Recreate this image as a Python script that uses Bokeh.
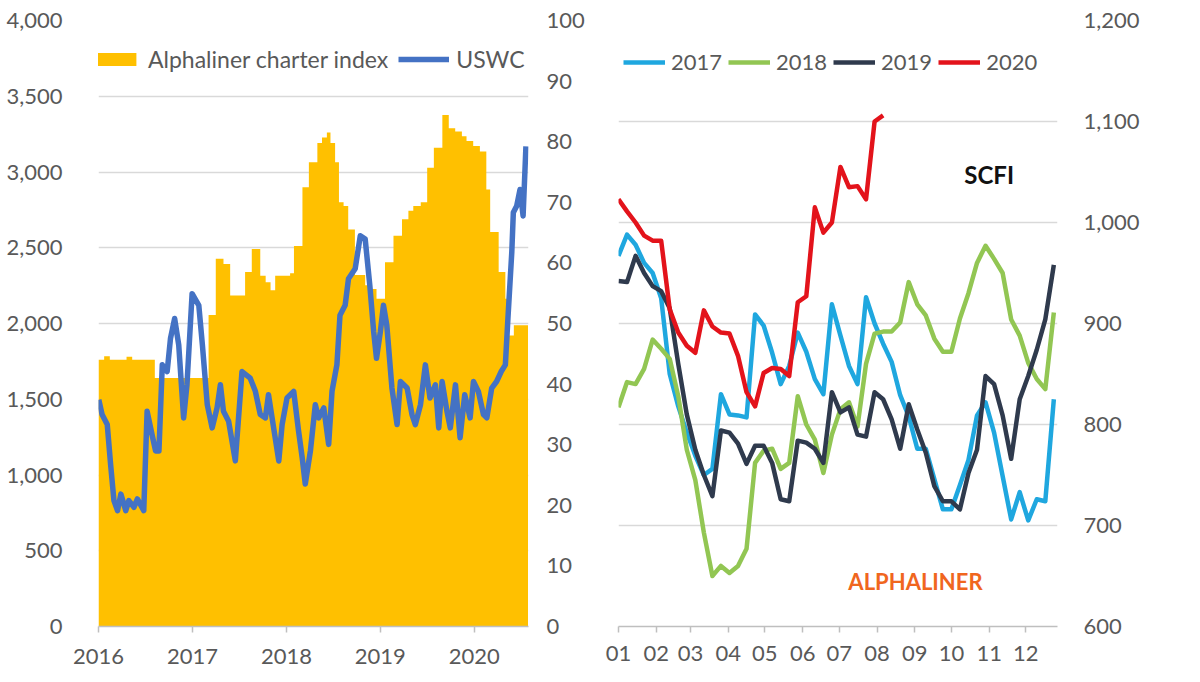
import pandas as pd
from datetime import datetime
from bokeh.plotting import figure
from bokeh.models import (Range1d, LinearAxis, FixedTicker, NumeralTickFormatter,
                          DatetimeTickFormatter, Legend, LegendItem, Label, ColumnDataSource)
from bokeh.layouts import row
from bokeh.embed import file_html
from bokeh.resources import INLINE

# ---------------- data: left panel ----------------
charter_dates = ["2016-01-01", "2016-01-23", "2016-02-14", "2016-04-19", "2016-05-11", "2016-08-07",
                 "2017-03-04", "2017-04-01", "2017-05-01", "2017-05-27", "2017-07-24", "2017-08-19",
                 "2017-09-21", "2017-10-12", "2017-10-31", "2017-11-18", "2018-01-15", "2018-01-30",
                 "2018-03-04", "2018-03-29", "2018-05-01", "2018-05-19", "2018-06-07", "2018-06-21",
                 "2018-07-09", "2018-07-24", "2018-08-11", "2018-08-29", "2018-09-24", "2018-11-03",
                 "2018-11-29", "2018-12-17", "2019-01-19", "2019-02-21", "2019-03-26", "2019-04-20",
                 "2019-05-09", "2019-06-07", "2019-07-02", "2019-07-28", "2019-08-30", "2019-09-24",
                 "2019-10-19", "2019-11-14", "2019-12-02", "2019-12-28", "2020-01-23", "2020-02-17",
                 "2020-03-03", "2020-04-05", "2020-05-01", "2020-05-16", "2020-06-03", "2020-07-28"]
charter_index = [44.0, 44.6, 44.0, 44.5, 44.0, 41.0,
                 51.4, 60.7, 59.8, 54.6, 58.5, 62.3,
                 57.9, 56.8, 55.5, 57.9, 58.3, 62.8,
                 72.5, 76.6, 79.8, 80.7, 81.5, 79.8,
                 76.6, 70.0, 69.4, 65.5, 58.0, 56.3,
                 55.7, 54.1, 60.1, 64.5, 67.2, 68.6,
                 69.4, 70.0, 75.7, 79.0, 84.4, 82.2,
                 81.7, 80.9, 80.1, 79.3, 78.4, 72.1,
                 65.1, 58.5, 54.1, 48.0, 49.7, 49.7]

uswc_dates = ["2016-01-02", "2016-01-15", "2016-02-04", "2016-02-17", "2016-03-01", "2016-03-15",
              "2016-03-28", "2016-04-16", "2016-04-28", "2016-05-18", "2016-05-31", "2016-06-25",
              "2016-07-08", "2016-07-27", "2016-08-10", "2016-08-23", "2016-09-05", "2016-09-24",
              "2016-10-07", "2016-10-23", "2016-11-08", "2016-11-27", "2016-12-10", "2016-12-30",
              "2017-01-25", "2017-02-08", "2017-02-27", "2017-03-18", "2017-04-06", "2017-04-19",
              "2017-05-01", "2017-05-21", "2017-06-16", "2017-07-12", "2017-08-13", "2017-09-02",
              "2017-09-21", "2017-10-11", "2017-10-23", "2017-11-06", "2017-12-02", "2017-12-15",
              "2018-01-03", "2018-01-29", "2018-02-17", "2018-03-03", "2018-03-15", "2018-04-04",
              "2018-04-23", "2018-05-06", "2018-05-26", "2018-06-14", "2018-06-27", "2018-07-16",
              "2018-07-28", "2018-08-17", "2018-08-30", "2018-09-25", "2018-10-15", "2018-11-03",
              "2018-11-21", "2018-12-06", "2018-12-17", "2019-01-01", "2019-01-13", "2019-01-26",
              "2019-02-15", "2019-03-07", "2019-03-20", "2019-04-15", "2019-05-04", "2019-05-17",
              "2019-06-06", "2019-06-25", "2019-07-13", "2019-08-03", "2019-08-16", "2019-08-29",
              "2019-09-17", "2019-09-30", "2019-10-20", "2019-11-07", "2019-11-25", "2019-12-16",
              "2019-12-29", "2020-01-17", "2020-02-06", "2020-02-19", "2020-03-09", "2020-03-28",
              "2020-04-15", "2020-05-01", "2020-05-11", "2020-05-26", "2020-06-01", "2020-06-14",
              "2020-06-27", "2020-07-09", "2020-07-20"]
uswc_values = [1497, 1399, 1333, 1071, 831, 765,
               874, 765, 831, 787, 842, 765,
               1421, 1268, 1159, 1159, 1727, 1683,
               1902, 2033, 1858, 1377, 1596, 2197,
               2120, 1858, 1464, 1311, 1443, 1596,
               1421, 1355, 1093, 1683, 1639, 1552,
               1399, 1377, 1530, 1377, 1093, 1333,
               1508, 1552, 1290, 1115, 940, 1159,
               1464, 1377, 1443, 1202, 1552, 1727,
               2055, 2120, 2295, 2361, 2579, 2557,
               2251, 1946, 1770, 1946, 2120, 1989,
               1574, 1333, 1617, 1574, 1399, 1333,
               1464, 1727, 1508, 1595, 1311, 1617,
               1420, 1311, 1595, 1246, 1530, 1377,
               1617, 1552, 1399, 1377, 1574, 1617,
               1683, 1727, 2033, 2470, 2732, 2776,
               2885, 2710, 3169]

left_ticks = [0, 500, 1000, 1500, 2000, 2500, 3000, 3500, 4000]
right_ticks = [0, 10, 20, 30, 40, 50, 60, 70, 80, 90, 100]
year_ticks = ["2016-01-01", "2017-01-01", "2018-01-01", "2019-01-01", "2020-01-01"]

# ---------------- data: right panel (SCFI, weekly) ----------------
scfi_2017 = [967, 988, 978, 960, 950, 925, 850, 818, 792, 769, 750, 756, 830, 810, 809, 807, 909, 898,
             871, 840, 858, 891, 872, 845, 830, 919, 888, 858, 840, 926, 900, 880, 862, 829, 808, 776,
             776, 746, 716, 716, 740, 765, 809, 822, 792, 749, 706, 733, 705, 726, 724, 825]
scfi_2018 = [817, 842, 840, 855, 884, 875, 865, 828, 775, 745, 693, 650, 660, 653, 660, 677, 762, 774,
             776, 756, 762, 828, 800, 785, 752, 790, 815, 822, 798, 860, 890, 892, 892, 901, 941, 919,
             908, 885, 872, 872, 905, 930, 960, 977, 964, 950, 904, 888, 861, 845, 835, 911]
scfi_2019 = [942, 941, 967, 950, 937, 932, 915, 860, 810, 775, 750, 729, 794, 792, 781, 761, 779, 779,
             762, 726, 724, 784, 782, 776, 762, 832, 812, 817, 790, 788, 832, 825, 805, 776, 820, 795,
             772, 739, 724, 724, 716, 752, 775, 848, 840, 809, 766, 825, 848, 874, 904, 958]
scfi_2020 = [1023, 1011, 1000, 987, 982, 982, 914, 891, 878, 871, 913, 897, 891, 890, 868, 832, 818,
             851, 856, 855, 848, 921, 927, 1015, 990, 1000, 1055, 1035, 1036, 1023, 1100, 1106]
series_names = ["2017", "2018", "2019", "2020"]
month_start_days = [0, 31, 59, 90, 120, 151, 181, 212, 243, 273, 304, 334]
month_labels = ["01", "02", "03", "04", "05", "06", "07", "08", "09", "10", "11", "12"]
scfi_ticks = [600, 700, 800, 900, 1000, 1100, 1200]

# ---------------- style ----------------
FONT = "Lato"
GRAY = "#595959"
GRID = "#D9D9D9"
YELLOW = "#FFC000"
BLUE = "#4472C4"
COLORS = ["#1FA7DF", "#92C653", "#2F3A4D", "#E3131B"]
FS = "22px"


def style_axis(ax):
    ax.major_label_text_font = FONT
    ax.major_label_text_font_size = FS
    ax.major_label_text_color = GRAY
    ax.minor_tick_line_color = None


# ---------------- left figure ----------------
cd = pd.to_datetime(charter_dates)
ud = pd.to_datetime(uswc_dates)

p1 = figure(width=600, height=676, output_backend="svg", toolbar_location=None,
            x_axis_type="datetime",
            x_range=Range1d(datetime(2016, 1, 1), datetime(2020, 7, 30)),
            y_range=Range1d(0, 4000),
            min_border_left=98, min_border_right=72, min_border_top=20, min_border_bottom=46)
p1.outline_line_color = None
p1.extra_y_ranges = {"idx": Range1d(0, 100)}

area = p1.varea_step(x=cd, y1=0, y2=charter_index, step_mode="after",
                     fill_color=YELLOW, y_range_name="idx")
uswc_r = p1.line(x=ud, y=uswc_values, line_color=BLUE, line_width=5.5, line_join="round")

p1.xgrid.visible = False
p1.ygrid.grid_line_color = GRID
p1.ygrid.grid_line_width = 1.5

ya = p1.yaxis[0]
ya.ticker = FixedTicker(ticks=left_ticks)
ya.formatter = NumeralTickFormatter(format="0,0")
ya.axis_line_color = None
ya.major_tick_line_color = None
ya.major_label_standoff = 30
style_axis(ya)

ra = LinearAxis(y_range_name="idx", ticker=FixedTicker(ticks=right_ticks))
ra.axis_line_color = None
ra.major_tick_line_color = None
ra.major_label_standoff = 12
style_axis(ra)
p1.add_layout(ra, "right")

xa = p1.xaxis[0]
xa.ticker = FixedTicker(ticks=[pd.Timestamp(t).value // 10**6 for t in year_ticks])
xa.formatter = DatetimeTickFormatter(microseconds="%Y", milliseconds="%Y", seconds="%Y", minsec="%Y",
                                     minutes="%Y", hourmin="%Y", hours="%Y", days="%Y",
                                     months="%Y", years="%Y")
xa.axis_line_color = "#BFBFBF"
xa.axis_line_width = 1.5
xa.major_tick_line_color = "#BFBFBF"
xa.major_tick_line_width = 1.5
xa.major_tick_out = 6
xa.major_tick_in = 0
xa.major_label_standoff = 16
style_axis(xa)

leg1 = Legend(items=[LegendItem(label="Alphaliner charter index", renderers=[area]),
                     LegendItem(label="USWC", renderers=[uswc_r])],
              orientation="horizontal", location=(-8, 553),
              glyph_width=51, glyph_height=16, label_standoff=7, spacing=10,
              padding=0, margin=0, border_line_color=None, background_fill_alpha=0,
              label_text_font=FONT, label_text_font_size="23px", label_text_color=GRAY)
p1.add_layout(leg1)

# ---------------- right figure ----------------
p2 = figure(width=592, height=676, output_backend="svg", toolbar_location=None,
            x_range=Range1d(0, 360), y_range=Range1d(600, 1200), y_axis_location="right",
            min_border_left=18, min_border_right=135, min_border_top=20, min_border_bottom=50)
p2.outline_line_color = None

rends = []
for name, vals, col in zip(series_names, [scfi_2017, scfi_2018, scfi_2019, scfi_2020], COLORS):
    src = ColumnDataSource(dict(day=[7 * i for i in range(len(vals))], v=vals))
    r = p2.line(x="day", y="v", source=src, line_color=col, line_width=4.5, line_join="round")
    rends.append((name, r))

p2.xgrid.visible = False
p2.ygrid.grid_line_color = GRID
p2.ygrid.grid_line_width = 1.5

ya2 = p2.yaxis[0]
ya2.ticker = FixedTicker(ticks=scfi_ticks)
ya2.formatter = NumeralTickFormatter(format="0,0")
ya2.axis_line_color = None
ya2.major_tick_line_color = None
ya2.major_label_standoff = 20
style_axis(ya2)

xa2 = p2.xaxis[0]
xa2.ticker = FixedTicker(ticks=month_start_days)
xa2.major_label_overrides = {d: lab for d, lab in zip(month_start_days, month_labels)}
xa2.axis_line_color = "#BFBFBF"
xa2.axis_line_width = 1.5
xa2.major_tick_line_color = "#BFBFBF"
xa2.major_tick_line_width = 1.5
xa2.major_tick_out = 6
xa2.major_tick_in = 0
xa2.major_label_standoff = 13
style_axis(xa2)

leg2 = Legend(items=[LegendItem(label=n, renderers=[r]) for n, r in rends],
              orientation="horizontal", location=(5, 551),
              glyph_width=42, glyph_height=16, label_standoff=6, spacing=6,
              padding=0, margin=0, border_line_color=None, background_fill_alpha=0,
              label_text_font=FONT, label_text_font_size=FS, label_text_color=GRAY)
p2.add_layout(leg2)

p2.add_layout(Label(x=283.6, y=1048, text="SCFI", text_font=FONT, text_font_size="24px",
                    text_font_style="bold", text_color="#111111", text_baseline="middle"))
p2.add_layout(Label(x=188.5, y=645, text="ALPHALINER", text_font=FONT, text_font_size="22px",
                    text_font_style="bold", text_color="#F0661E", text_baseline="middle"))

layout = row(p1, p2)
open("out.html", "w").write(file_html(layout, INLINE))
